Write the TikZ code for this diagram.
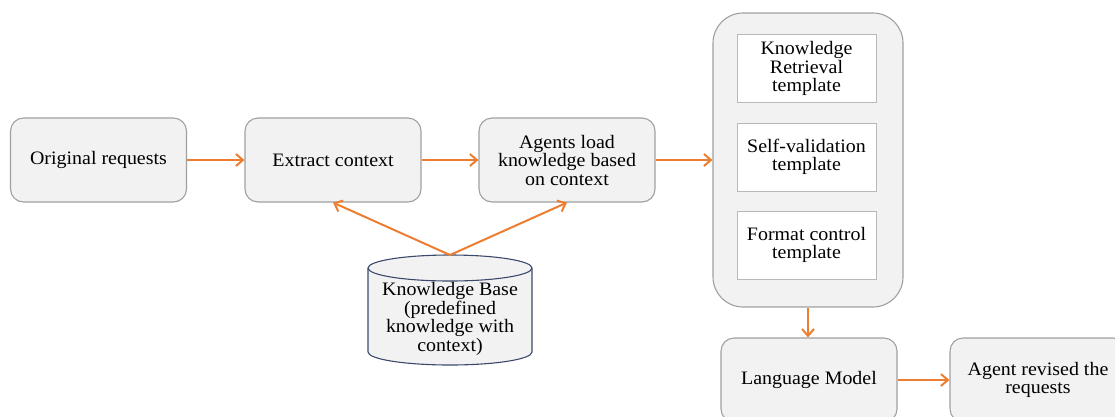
\documentclass[tikz,border=0pt]{standalone}
\usepackage{fontspec}
\setmainfont[FakeStretch=1.05]{Liberation Serif}
\usetikzlibrary{arrows.meta}
\definecolor{flow}{HTML}{ED7D31}
\definecolor{boxfill}{HTML}{F2F2F2}
\definecolor{boxline}{HTML}{A0A0A0}
\definecolor{dbline}{HTML}{3B4A6B}
\definecolor{tplline}{HTML}{B8B8B8}
\tikzset{
  stepbox/.style={draw=boxline, fill=boxfill, line width=1.1pt, rounded corners=13pt,
    minimum width=176pt, minimum height=84pt, align=center, inner sep=2pt},
  holder/.style={draw=boxline, fill=boxfill, line width=1.1pt, rounded corners=30pt,
    minimum width=190pt, minimum height=294pt},
  tplbox/.style={draw=tplline, fill=white, line width=1pt,
    minimum width=139pt, minimum height=68pt, align=center, inner sep=2pt},
  flowarrow/.style={draw=flow, line width=2pt, -{Straight Barb[length=7pt,width=12pt,line width=2pt]}},
  every node/.style={font=\fontsize{19}{18.5}\selectfont}
}
\begin{document}
\begin{tikzpicture}[x=1pt,y=-1pt]
  \useasboundingbox (0,0) rectangle (1115,416);
  \clip (0,0) rectangle (1115,416);

  % main flow
  \node[stepbox] (orig) at (98.5,160) {Original requests};
  \node[stepbox] (extract) at (333,160) {Extract context};
  \node[stepbox] (agents) at (567,160) {Agents load\\knowledge based\\on context};

  % template container
  \node[holder] (tpl) at (808,160) {};
  \node[tplbox] (kr) at (806.5,68.5) {Knowledge\\Retrieval\\template};
  \node[tplbox] (sv) at (806.5,157) {Self-validation\\template};
  \node[tplbox] (fc) at (806.5,245) {Format control\\template};

  % model and result
  \node[stepbox] (lm) at (809,380) {Language Model};
  \node[stepbox] (rev) at (1038,380) {Agent revised the\\requests};

  % knowledge base cylinder
  \filldraw[draw=dbline, fill=boxfill, line width=1.1pt]
    (368,268) -- (368,352) arc (180:0:82 and 13) -- (532,268) arc (0:-180:82 and 13) -- cycle;
  \draw[dbline, line width=1.1pt] (368,268) arc (180:0:82 and 13);
  \coordinate (kbtop) at (450,255);
  \node[align=center] (kb) at (450,319) {Knowledge Base\\(predefined\\knowledge with\\context)};

  % connectors
  \draw[flowarrow] (orig.east) -- (extract.west);
  \draw[flowarrow] (extract.east) -- (agents.west);
  \draw[flowarrow] (agents.east) -- (tpl.west);
  \draw[flowarrow] (kbtop) -- (extract.south);
  \draw[flowarrow] (kbtop) -- (agents.south);
  \draw[flowarrow] (tpl.south) -- (tpl.south |- lm.north);
  \draw[flowarrow] (lm.east) -- (rev.west);
\end{tikzpicture}
\end{document}
